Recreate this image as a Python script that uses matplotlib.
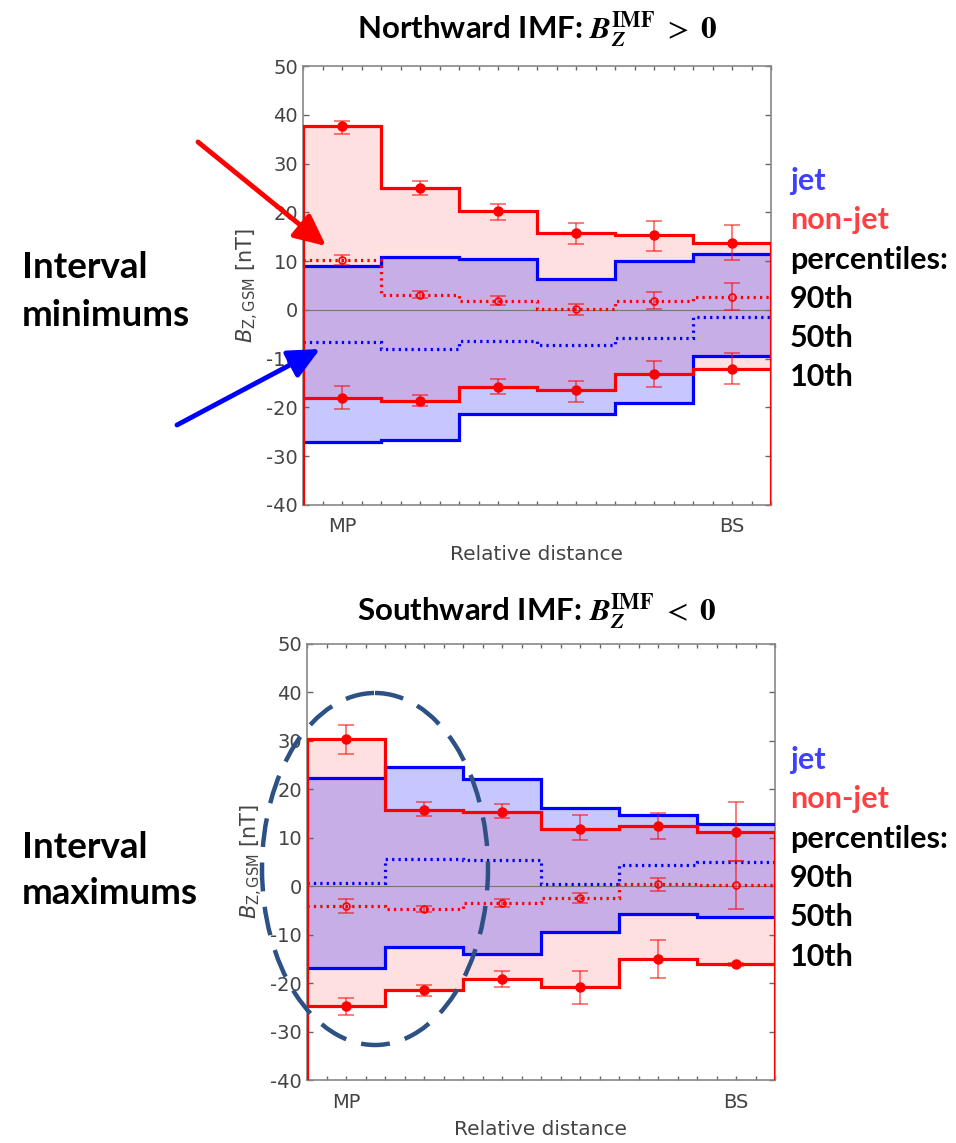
import matplotlib
matplotlib.use("Agg")
import matplotlib.pyplot as plt
import numpy as np
from matplotlib.patches import Ellipse

plt.rcParams["axes.unicode_minus"] = False

# ---------------- data ----------------
edges = [0, 1, 2, 3, 4, 5, 6]
centers = [0.5, 1.5, 2.5, 3.5, 4.5, 5.5]
xtick_labels = ["MP", "BS"]

# Northward IMF
n_nj90 = [37.6, 24.9, 20.2, 15.7, 15.3, 13.8]
n_nj90_lo = [36.1, 23.6, 18.5, 13.5, 12.1, 10.3]
n_nj90_hi = [38.7, 26.4, 21.7, 17.8, 18.3, 17.4]
n_nj50 = [10.3, 3.1, 1.9, 0.1, 1.9, 2.7]
n_nj50_lo = [9.3, 2.4, 0.9, -1.1, 0.1, 0.0]
n_nj50_hi = [11.3, 3.8, 2.9, 1.3, 3.7, 5.6]
n_nj10 = [-18.0, -18.7, -15.8, -16.5, -13.1, -12.1]
n_nj10_lo = [-20.4, -19.7, -17.3, -18.8, -15.8, -15.2]
n_nj10_hi = [-15.7, -17.5, -14.1, -14.5, -10.4, -8.8]
n_j90 = [9.0, 10.9, 10.5, 6.3, 10.1, 11.5]
n_j50 = [-6.6, -8.0, -6.3, -7.3, -5.7, -1.5]
n_j10 = [-27.1, -26.6, -21.4, -21.4, -19.1, -9.5]

# Southward IMF
s_nj90 = [30.4, 15.7, 15.4, 11.9, 12.4, 11.2]
s_nj90_lo = [27.2, 14.4, 14.0, 9.5, 9.8, 5.3]
s_nj90_hi = [33.3, 17.4, 16.9, 14.6, 15.1, 17.3]
s_nj50 = [-4.1, -4.7, -3.4, -2.5, 0.5, 0.2]
s_nj50_lo = [-5.5, -5.4, -4.2, -3.5, -0.9, -4.8]
s_nj50_hi = [-2.7, -4.0, -2.7, -1.4, 1.7, 5.2]
s_nj10 = [-24.7, -21.4, -19.2, -20.9, -15.1, -16.1]
s_nj10_lo = [-26.5, -22.7, -20.7, -24.4, -18.9, -16.4]
s_nj10_hi = [-23.0, -20.3, -17.5, -17.5, -11.0, -15.8]
s_j90 = [22.3, 24.7, 22.1, 16.1, 14.8, 12.9]
s_j50 = [0.7, 5.6, 5.4, 0.5, 4.3, 5.0]
s_j10 = [-16.9, -12.6, -14.0, -9.5, -5.8, -6.3]

titles = [r"Northward IMF: $\mathbfit{B}_{\mathbfit{Z}}^{\mathbf{IMF}}\ >\ \mathbf{0}$",
          r"Southward IMF: $\mathbfit{B}_{\mathbfit{Z}}^{\mathbf{IMF}}\ <\ \mathbf{0}$"]
side_labels = [("Interval", "minimums"), ("Interval", "maximums")]
legend_lines = [("jet", "#3f3fff"), ("non-jet", "#ff4040"), ("percentiles:", "black"),
                ("90th", "black"), ("50th", "black"), ("10th", "black")]

RED = "#ff0000"
BLUE = "#0000ff"
GRAY = "#444444"
YMIN, YMAX = -40, 50

W, H = 956, 1143
fig = plt.figure(figsize=(W / 100, H / 100), dpi=100)


def fx(px):
    return px / W


def fy(py):
    return 1 - py / H


def draw_panel(ax, nj90, nj90_lo, nj90_hi, nj50, nj50_lo, nj50_hi,
               nj10, nj10_lo, nj10_hi, j90, j50, j10):
    nj90 = np.array(nj90); nj50 = np.array(nj50); nj10 = np.array(nj10)
    ax.stairs(nj90, edges, baseline=nj10, fill=True, color=RED, alpha=0.12, lw=0, zorder=1)
    ax.stairs(j90, edges, baseline=j10, fill=True, color=BLUE, alpha=0.22, lw=0, zorder=1)
    ax.axhline(0, color="#777777", lw=0.8, zorder=2)
    ax.stairs(j90, edges, baseline=None, color=BLUE, lw=2.3, zorder=3)
    ax.stairs(j10, edges, baseline=None, color=BLUE, lw=2.3, zorder=3)
    ax.stairs(j50, edges, baseline=None, color=BLUE, lw=2.3, ls=(0, (0.7, 1.3)), zorder=3)
    ax.stairs(nj90, edges, baseline=YMIN, color=RED, lw=2.3, zorder=4)
    ax.stairs(nj10, edges, baseline=None, color=RED, lw=2.3, zorder=4)
    ax.stairs(nj50, edges, baseline=None, color=RED, lw=2.3, ls=(0, (0.7, 1.3)), zorder=4)
    for vals, lo, hi, filled in [(nj90, nj90_lo, nj90_hi, True),
                                 (nj50, nj50_lo, nj50_hi, False),
                                 (nj10, nj10_lo, nj10_hi, True)]:
        yerr = [vals - np.array(lo), np.array(hi) - vals]
        ax.errorbar(centers, vals, yerr=yerr, fmt="none", ecolor=RED, alpha=0.6,
                    elinewidth=1.2, capsize=6, capthick=1.2, zorder=5)
        if filled:
            ax.plot(centers, vals, "o", color=RED, ms=6.5, zorder=6)
        else:
            ax.plot(centers, vals, "o", mfc="none", mec=RED, mew=1.2, ms=5, zorder=6)
    ax.set_xlim(edges[0], edges[-1])
    ax.set_ylim(YMIN, YMAX)
    ax.set_yticks(np.arange(YMIN, YMAX + 1, 10))
    ax.set_xticks([centers[0], centers[-1]])
    ax.set_xticklabels(xtick_labels)
    ax.set_xticks(np.arange(0, 6.01, 0.25), minor=True)
    ax.tick_params(which="both", direction="in", top=True, right=True, colors="#666666",
                   labelcolor=GRAY, labelsize=14)
    ax.tick_params(which="major", length=4, width=1)
    ax.tick_params(which="minor", length=3, width=1)
    ax.tick_params(axis="x", which="major", length=3, pad=9)
    for s in ax.spines.values():
        s.set_color("#888888")
        s.set_linewidth(1.2)
    ax.set_xlabel("Relative distance", color=GRAY, fontsize=14.5, labelpad=6)
    ax.set_ylabel(r"$B_{\mathrm{Z,GSM}}$ [nT]", color=GRAY, fontsize=15, labelpad=4)


ax1 = fig.add_axes([fx(303), fy(505), fx(771) - fx(303), fy(66) - fy(505)])
draw_panel(ax1, n_nj90, n_nj90_lo, n_nj90_hi, n_nj50, n_nj50_lo, n_nj50_hi,
           n_nj10, n_nj10_lo, n_nj10_hi, n_j90, n_j50, n_j10)
ax2 = fig.add_axes([fx(307), fy(1080), fx(775) - fx(307), fy(644) - fy(1080)])
draw_panel(ax2, s_nj90, s_nj90_lo, s_nj90_hi, s_nj50, s_nj50_lo, s_nj50_hi,
           s_nj10, s_nj10_lo, s_nj10_hi, s_j90, s_j50, s_j10)

# titles
for title, ty in zip(titles, [30, 612]):
    fig.text(fx(537), fy(ty), title, ha="center", va="center", fontsize=22.5,
             fontweight="bold", family="Lato", math_fontfamily="stix")

# side labels
for (l1, l2), (y1, y2) in zip(side_labels, [(268, 315), (848, 893)]):
    fig.text(fx(22), fy(y1), l1, ha="left", va="center", fontsize=26.5,
             fontweight="bold", family="Lato")
    fig.text(fx(22), fy(y2), l2, ha="left", va="center", fontsize=26.5,
             fontweight="bold", family="Lato")

# right legends
for y0 in [181, 760]:
    for i, (txt, col) in enumerate(legend_lines):
        fig.text(fx(790), fy(y0 + i * 39.3), txt, ha="left", va="center", fontsize=22,
                 fontweight="bold", family="Lato", color=col)

# overlay for arrows and ellipse (pixel coordinates)
ov = fig.add_axes([0, 0, 1, 1], zorder=10)
ov.set_xlim(0, W)
ov.set_ylim(H, 0)
ov.axis("off")
ov.annotate("", xy=(326, 246), xytext=(198, 142),
            arrowprops=dict(arrowstyle="-|>,head_length=1.9,head_width=0.9",
                            color=RED, lw=3.5, shrinkA=0, shrinkB=0))
ov.annotate("", xy=(320, 349), xytext=(177, 425),
            arrowprops=dict(arrowstyle="-|>,head_length=1.9,head_width=0.9",
                            color=BLUE, lw=3.5, shrinkA=0, shrinkB=0))
ov.add_patch(Ellipse((375, 869), 226, 352, fill=False, ec="#2d5185", lw=3.2,
                     ls=(0, (6.5, 3.5))))

fig.savefig("out.png", dpi=100)
